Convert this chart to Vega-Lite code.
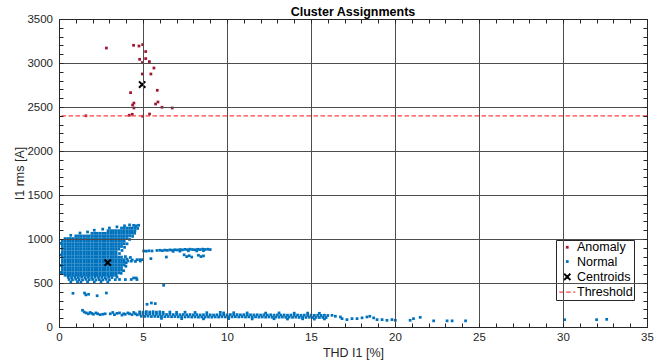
{"$schema":"https://vega.github.io/schema/vega-lite/v6.json","width":588,"height":308,"autosize":{"type":"none"},"padding":{"left":59,"top":19,"right":25,"bottom":35},"background":"white",
"config":{"view":{"stroke":null},"font":"Liberation Sans"},
"title":{"text":"Cluster Assignments","fontSize":12.5,"fontWeight":"bold","color":"#000000","offset":-5,"anchor":"middle","font":"Liberation Sans"},
"datasets":{
"normal":[
{"x":4.44,"y":1155},{"x":4.6,"y":1150},{"x":4.74,"y":1156},
{"x":0.7,"y":1042},{"x":1.25,"y":1068},{"x":1.7,"y":1080},{"x":2.1,"y":1100},{"x":2.6,"y":1112},{"x":3.0,"y":1125},{"x":3.45,"y":1138},{"x":3.9,"y":1150},{"x":4.2,"y":1160},
{"x":4.68,"y":1120},{"x":4.5,"y":1065},{"x":4.38,"y":1030},{"x":4.2,"y":995},{"x":4.05,"y":945},{"x":3.9,"y":905},{"x":3.75,"y":870},{"x":3.6,"y":835},{"x":3.95,"y":800},{"x":4.05,"y":772},{"x":4.0,"y":730},{"x":3.98,"y":690},{"x":3.85,"y":640},{"x":3.7,"y":610},{"x":4.1,"y":750},{"x":4.3,"y":748},{"x":4.55,"y":745},{"x":4.84,"y":750},
{"x":0.1,"y":950},{"x":0.08,"y":820},{"x":0.1,"y":700},{"x":0.12,"y":620},
{"x":3.72,"y":1125},{"x":3.88,"y":1125},{"x":4.04,"y":1125},{"x":4.2,"y":1125},{"x":4.36,"y":1125},{"x":4.52,"y":1125},
{"x":2.92,"y":1095},{"x":3.08,"y":1095},{"x":3.24,"y":1095},{"x":3.4,"y":1095},{"x":3.56,"y":1095},{"x":3.72,"y":1095},{"x":3.88,"y":1095},{"x":4.04,"y":1095},{"x":4.2,"y":1095},{"x":4.36,"y":1095},{"x":4.52,"y":1095},
{"x":1.96,"y":1065},{"x":2.12,"y":1065},{"x":2.28,"y":1065},{"x":2.44,"y":1065},{"x":2.6,"y":1065},{"x":2.76,"y":1065},{"x":2.92,"y":1065},{"x":3.08,"y":1065},{"x":3.24,"y":1065},{"x":3.4,"y":1065},{"x":3.56,"y":1065},{"x":3.72,"y":1065},{"x":3.88,"y":1065},{"x":4.04,"y":1065},{"x":4.2,"y":1065},{"x":4.36,"y":1065},
{"x":1,"y":1035},{"x":1.16,"y":1035},{"x":1.32,"y":1035},{"x":1.48,"y":1035},{"x":1.64,"y":1035},{"x":1.8,"y":1035},{"x":1.96,"y":1035},{"x":2.12,"y":1035},{"x":2.28,"y":1035},{"x":2.44,"y":1035},{"x":2.6,"y":1035},{"x":2.76,"y":1035},{"x":2.92,"y":1035},{"x":3.08,"y":1035},{"x":3.24,"y":1035},{"x":3.4,"y":1035},{"x":3.56,"y":1035},{"x":3.72,"y":1035},{"x":3.88,"y":1035},{"x":4.04,"y":1035},{"x":4.2,"y":1035},
{"x":0.36,"y":1005},{"x":0.52,"y":1005},{"x":0.68,"y":1005},{"x":0.84,"y":1005},{"x":1,"y":1005},{"x":1.16,"y":1005},{"x":1.32,"y":1005},{"x":1.48,"y":1005},{"x":1.64,"y":1005},{"x":1.8,"y":1005},{"x":1.96,"y":1005},{"x":2.12,"y":1005},{"x":2.28,"y":1005},{"x":2.44,"y":1005},{"x":2.6,"y":1005},{"x":2.76,"y":1005},{"x":2.92,"y":1005},{"x":3.08,"y":1005},{"x":3.24,"y":1005},{"x":3.4,"y":1005},{"x":3.56,"y":1005},{"x":3.72,"y":1005},{"x":3.88,"y":1005},{"x":4.04,"y":1005},
{"x":0.2,"y":975},{"x":0.36,"y":975},{"x":0.52,"y":975},{"x":0.68,"y":975},{"x":0.84,"y":975},{"x":1,"y":975},{"x":1.16,"y":975},{"x":1.32,"y":975},{"x":1.48,"y":975},{"x":1.64,"y":975},{"x":1.8,"y":975},{"x":1.96,"y":975},{"x":2.12,"y":975},{"x":2.28,"y":975},{"x":2.44,"y":975},{"x":2.6,"y":975},{"x":2.76,"y":975},{"x":2.92,"y":975},{"x":3.08,"y":975},{"x":3.24,"y":975},{"x":3.4,"y":975},{"x":3.56,"y":975},{"x":3.72,"y":975},{"x":3.88,"y":975},
{"x":0.2,"y":945},{"x":0.36,"y":945},{"x":0.52,"y":945},{"x":0.68,"y":945},{"x":0.84,"y":945},{"x":1,"y":945},{"x":1.16,"y":945},{"x":1.32,"y":945},{"x":1.48,"y":945},{"x":1.64,"y":945},{"x":1.8,"y":945},{"x":1.96,"y":945},{"x":2.12,"y":945},{"x":2.28,"y":945},{"x":2.44,"y":945},{"x":2.6,"y":945},{"x":2.76,"y":945},{"x":2.92,"y":945},{"x":3.08,"y":945},{"x":3.24,"y":945},{"x":3.4,"y":945},{"x":3.56,"y":945},{"x":3.72,"y":945},{"x":3.88,"y":945},
{"x":0.2,"y":915},{"x":0.36,"y":915},{"x":0.52,"y":915},{"x":0.68,"y":915},{"x":0.84,"y":915},{"x":1,"y":915},{"x":1.16,"y":915},{"x":1.32,"y":915},{"x":1.48,"y":915},{"x":1.64,"y":915},{"x":1.8,"y":915},{"x":1.96,"y":915},{"x":2.12,"y":915},{"x":2.28,"y":915},{"x":2.44,"y":915},{"x":2.6,"y":915},{"x":2.76,"y":915},{"x":2.92,"y":915},{"x":3.08,"y":915},{"x":3.24,"y":915},{"x":3.4,"y":915},{"x":3.56,"y":915},{"x":3.72,"y":915},
{"x":0.2,"y":885},{"x":0.36,"y":885},{"x":0.52,"y":885},{"x":0.68,"y":885},{"x":0.84,"y":885},{"x":1,"y":885},{"x":1.16,"y":885},{"x":1.32,"y":885},{"x":1.48,"y":885},{"x":1.64,"y":885},{"x":1.8,"y":885},{"x":1.96,"y":885},{"x":2.12,"y":885},{"x":2.28,"y":885},{"x":2.44,"y":885},{"x":2.6,"y":885},{"x":2.76,"y":885},{"x":2.92,"y":885},{"x":3.08,"y":885},{"x":3.24,"y":885},{"x":3.4,"y":885},{"x":3.56,"y":885},
{"x":0.2,"y":855},{"x":0.36,"y":855},{"x":0.52,"y":855},{"x":0.68,"y":855},{"x":0.84,"y":855},{"x":1,"y":855},{"x":1.16,"y":855},{"x":1.32,"y":855},{"x":1.48,"y":855},{"x":1.64,"y":855},{"x":1.8,"y":855},{"x":1.96,"y":855},{"x":2.12,"y":855},{"x":2.28,"y":855},{"x":2.44,"y":855},{"x":2.6,"y":855},{"x":2.76,"y":855},{"x":2.92,"y":855},{"x":3.08,"y":855},{"x":3.24,"y":855},{"x":3.4,"y":855},
{"x":0.2,"y":825},{"x":0.36,"y":825},{"x":0.52,"y":825},{"x":0.68,"y":825},{"x":0.84,"y":825},{"x":1,"y":825},{"x":1.16,"y":825},{"x":1.32,"y":825},{"x":1.48,"y":825},{"x":1.64,"y":825},{"x":1.8,"y":825},{"x":1.96,"y":825},{"x":2.12,"y":825},{"x":2.28,"y":825},{"x":2.44,"y":825},{"x":2.6,"y":825},{"x":2.76,"y":825},{"x":2.92,"y":825},{"x":3.08,"y":825},{"x":3.24,"y":825},{"x":3.4,"y":825},
{"x":0.2,"y":795},{"x":0.36,"y":795},{"x":0.52,"y":795},{"x":0.68,"y":795},{"x":0.84,"y":795},{"x":1,"y":795},{"x":1.16,"y":795},{"x":1.32,"y":795},{"x":1.48,"y":795},{"x":1.64,"y":795},{"x":1.8,"y":795},{"x":1.96,"y":795},{"x":2.12,"y":795},{"x":2.28,"y":795},{"x":2.44,"y":795},{"x":2.6,"y":795},{"x":2.76,"y":795},{"x":2.92,"y":795},{"x":3.08,"y":795},{"x":3.24,"y":795},{"x":3.4,"y":795},{"x":3.56,"y":795},{"x":3.72,"y":795},
{"x":0.2,"y":765},{"x":0.36,"y":765},{"x":0.52,"y":765},{"x":0.68,"y":765},{"x":0.84,"y":765},{"x":1,"y":765},{"x":1.16,"y":765},{"x":1.32,"y":765},{"x":1.48,"y":765},{"x":1.64,"y":765},{"x":1.8,"y":765},{"x":1.96,"y":765},{"x":2.12,"y":765},{"x":2.28,"y":765},{"x":2.44,"y":765},{"x":2.6,"y":765},{"x":2.76,"y":765},{"x":2.92,"y":765},{"x":3.08,"y":765},{"x":3.24,"y":765},{"x":3.4,"y":765},{"x":3.56,"y":765},{"x":3.72,"y":765},{"x":3.88,"y":765},
{"x":0.2,"y":735},{"x":0.36,"y":735},{"x":0.52,"y":735},{"x":0.68,"y":735},{"x":0.84,"y":735},{"x":1,"y":735},{"x":1.16,"y":735},{"x":1.32,"y":735},{"x":1.48,"y":735},{"x":1.64,"y":735},{"x":1.8,"y":735},{"x":1.96,"y":735},{"x":2.12,"y":735},{"x":2.28,"y":735},{"x":2.44,"y":735},{"x":2.6,"y":735},{"x":2.76,"y":735},{"x":2.92,"y":735},{"x":3.08,"y":735},{"x":3.24,"y":735},{"x":3.4,"y":735},{"x":3.56,"y":735},{"x":3.72,"y":735},{"x":3.88,"y":735},
{"x":0.2,"y":705},{"x":0.36,"y":705},{"x":0.52,"y":705},{"x":0.68,"y":705},{"x":0.84,"y":705},{"x":1,"y":705},{"x":1.16,"y":705},{"x":1.32,"y":705},{"x":1.48,"y":705},{"x":1.64,"y":705},{"x":1.8,"y":705},{"x":1.96,"y":705},{"x":2.12,"y":705},{"x":2.28,"y":705},{"x":2.44,"y":705},{"x":2.6,"y":705},{"x":2.76,"y":705},{"x":2.92,"y":705},{"x":3.08,"y":705},{"x":3.24,"y":705},{"x":3.4,"y":705},{"x":3.56,"y":705},{"x":3.72,"y":705},{"x":3.88,"y":705},
{"x":0.2,"y":675},{"x":0.36,"y":675},{"x":0.52,"y":675},{"x":0.68,"y":675},{"x":0.84,"y":675},{"x":1,"y":675},{"x":1.16,"y":675},{"x":1.32,"y":675},{"x":1.48,"y":675},{"x":1.64,"y":675},{"x":1.8,"y":675},{"x":1.96,"y":675},{"x":2.12,"y":675},{"x":2.28,"y":675},{"x":2.44,"y":675},{"x":2.6,"y":675},{"x":2.76,"y":675},{"x":2.92,"y":675},{"x":3.08,"y":675},{"x":3.24,"y":675},{"x":3.4,"y":675},{"x":3.56,"y":675},{"x":3.72,"y":675},
{"x":0.2,"y":645},{"x":0.36,"y":645},{"x":0.52,"y":645},{"x":0.68,"y":645},{"x":0.84,"y":645},{"x":1,"y":645},{"x":1.16,"y":645},{"x":1.32,"y":645},{"x":1.48,"y":645},{"x":1.64,"y":645},{"x":1.8,"y":645},{"x":1.96,"y":645},{"x":2.12,"y":645},{"x":2.28,"y":645},{"x":2.44,"y":645},{"x":2.6,"y":645},{"x":2.76,"y":645},{"x":2.92,"y":645},{"x":3.08,"y":645},{"x":3.24,"y":645},{"x":3.4,"y":645},{"x":3.56,"y":645},{"x":3.72,"y":645},
{"x":0.2,"y":615},{"x":0.36,"y":615},{"x":0.52,"y":615},{"x":0.68,"y":615},{"x":0.84,"y":615},{"x":1,"y":615},{"x":1.16,"y":615},{"x":1.32,"y":615},{"x":1.48,"y":615},{"x":1.64,"y":615},{"x":1.8,"y":615},{"x":1.96,"y":615},{"x":2.12,"y":615},{"x":2.28,"y":615},{"x":2.44,"y":615},{"x":2.6,"y":615},{"x":2.76,"y":615},{"x":2.92,"y":615},{"x":3.08,"y":615},{"x":3.24,"y":615},{"x":3.4,"y":615},{"x":3.56,"y":615},
{"x":0.36,"y":588},{"x":0.52,"y":588},{"x":0.68,"y":588},{"x":0.84,"y":588},{"x":1,"y":588},{"x":1.16,"y":588},{"x":1.32,"y":588},{"x":1.48,"y":588},{"x":1.64,"y":588},{"x":1.8,"y":588},{"x":1.96,"y":588},{"x":2.12,"y":588},{"x":2.28,"y":588},{"x":2.44,"y":588},{"x":2.6,"y":588},{"x":2.76,"y":588},{"x":2.92,"y":588},{"x":3.08,"y":588},{"x":3.24,"y":588},{"x":3.4,"y":588},
{"x":0.55,"y":565},{"x":0.75,"y":562},{"x":0.95,"y":566},{"x":1.15,"y":563},{"x":1.35,"y":567},{"x":1.55,"y":562},{"x":1.75,"y":565},{"x":1.95,"y":561},{"x":2.15,"y":566},{"x":2.35,"y":563},{"x":2.55,"y":565},{"x":2.75,"y":560},{"x":2.95,"y":566},{"x":3.15,"y":562},{"x":3.45,"y":568},
{"x":0.6,"y":540},{"x":0.8,"y":536},{"x":1.0,"y":542},{"x":1.2,"y":538},{"x":1.4,"y":535},{"x":1.6,"y":541},{"x":1.8,"y":537},{"x":2.0,"y":540},{"x":2.2,"y":534},{"x":2.4,"y":539},{"x":2.6,"y":536},{"x":2.8,"y":541},{"x":3.0,"y":535},{"x":3.35,"y":538},{"x":3.6,"y":540},
{"x":0.7,"y":512},{"x":1.1,"y":515},{"x":1.3,"y":508},{"x":1.7,"y":514},{"x":2.1,"y":510},{"x":2.5,"y":516},{"x":2.9,"y":511},
{"x":3.95,"y":539},{"x":4.3,"y":540},{"x":4.64,"y":539},{"x":4.44,"y":557},{"x":4.6,"y":557},
{"x":0.83,"y":383},{"x":1.52,"y":386},{"x":1.6,"y":365},{"x":1.76,"y":372},{"x":2.27,"y":355},{"x":2.82,"y":386},{"x":6.23,"y":474},
{"x":5.04,"y":864},{"x":5.2,"y":862},{"x":5.36,"y":866},{"x":5.54,"y":864},{"x":5.83,"y":870},{"x":6.0,"y":872},{"x":6.15,"y":868},{"x":6.3,"y":874},{"x":6.45,"y":871},{"x":6.6,"y":876},{"x":6.75,"y":873},{"x":6.9,"y":878},{"x":7.05,"y":875},{"x":7.2,"y":880},{"x":7.35,"y":877},{"x":7.5,"y":882},{"x":7.65,"y":879},{"x":7.8,"y":884},{"x":7.95,"y":880},{"x":8.1,"y":878},{"x":8.25,"y":883},{"x":8.4,"y":880},{"x":8.55,"y":885},{"x":8.7,"y":881},{"x":8.85,"y":884},{"x":9.0,"y":880},
{"x":6.8,"y":860},{"x":7.2,"y":862},{"x":7.7,"y":866},{"x":8.2,"y":865},{"x":8.6,"y":868},
{"x":7.45,"y":820},{"x":7.6,"y":800},{"x":7.75,"y":810},{"x":7.9,"y":795},{"x":8.3,"y":815},{"x":8.45,"y":800},{"x":8.6,"y":808},
{"x":5.47,"y":777},{"x":6.39,"y":795},
{"x":4.25,"y":790},{"x":4.36,"y":762},{"x":4.64,"y":765},{"x":4.8,"y":765},{"x":4.96,"y":765},
{"x":1.4,"y":190},{"x":1.5,"y":170},{"x":1.62,"y":160},{"x":1.75,"y":150},{"x":1.85,"y":165},{"x":1.95,"y":155},{"x":2.05,"y":145},{"x":2.2,"y":160},{"x":2.3,"y":150},{"x":2.45,"y":140},{"x":2.6,"y":145},{"x":2.75,"y":150},{"x":3.05,"y":150},{"x":3.2,"y":165},{"x":3.3,"y":140},{"x":3.45,"y":155},{"x":3.6,"y":160},{"x":3.75,"y":135},{"x":3.85,"y":150},{"x":3.95,"y":145},{"x":4.1,"y":160},{"x":4.2,"y":150},{"x":4.35,"y":140},{"x":4.45,"y":165},{"x":4.55,"y":150},{"x":4.65,"y":138},
{"x":5.24,"y":258},{"x":5.5,"y":273},{"x":5.73,"y":266},
{"x":4.8,"y":145},{"x":5.0,"y":148},{"x":5.2,"y":146},{"x":5.4,"y":150},{"x":5.6,"y":147},{"x":5.8,"y":145},{"x":6.0,"y":143},{"x":6.2,"y":146},{"x":6.4,"y":142},{"x":6.6,"y":144},{"x":6.8,"y":141},{"x":7.0,"y":143},{"x":7.2,"y":140},{"x":7.4,"y":142},{"x":7.6,"y":139},{"x":7.8,"y":141},{"x":8.0,"y":138},{"x":8.2,"y":140},{"x":8.4,"y":137},{"x":8.6,"y":139},{"x":8.8,"y":136},{"x":9.0,"y":138},{"x":9.2,"y":136},{"x":9.4,"y":139},{"x":9.6,"y":137},{"x":9.8,"y":140},{"x":10.0,"y":138},{"x":10.2,"y":141},{"x":10.4,"y":139},{"x":10.6,"y":141},{"x":10.8,"y":138},{"x":11.0,"y":140},{"x":11.2,"y":137},{"x":11.4,"y":139},{"x":11.6,"y":137},{"x":11.8,"y":139},{"x":12.0,"y":136},{"x":12.2,"y":138},{"x":12.4,"y":136},{"x":12.6,"y":138},{"x":12.8,"y":135},{"x":13.0,"y":137},{"x":13.2,"y":135},{"x":13.4,"y":137},{"x":13.6,"y":134},{"x":13.8,"y":136},{"x":14.0,"y":134},{"x":14.2,"y":136},{"x":14.4,"y":133},{"x":14.6,"y":135},{"x":14.8,"y":133},{"x":15.0,"y":135},{"x":15.2,"y":132},{"x":15.4,"y":134},{"x":15.6,"y":132},{"x":15.8,"y":134},{"x":16.0,"y":131},
{"x":4.9,"y":122},{"x":5.1,"y":120},{"x":5.3,"y":123},{"x":5.5,"y":119},{"x":5.7,"y":121},{"x":5.9,"y":118},{"x":6.1,"y":120},{"x":6.3,"y":117},{"x":6.5,"y":119},{"x":6.7,"y":116},{"x":6.9,"y":118},{"x":7.1,"y":115},{"x":7.3,"y":117},{"x":7.5,"y":114},{"x":7.7,"y":116},{"x":7.9,"y":113},{"x":8.1,"y":115},{"x":8.3,"y":112},{"x":8.5,"y":114},{"x":8.7,"y":112},{"x":8.9,"y":114},{"x":9.1,"y":112},{"x":9.3,"y":115},{"x":9.5,"y":113},{"x":9.7,"y":116},{"x":9.9,"y":114},{"x":10.1,"y":117},{"x":10.3,"y":115},{"x":10.5,"y":117},{"x":10.7,"y":114},{"x":10.9,"y":116},{"x":11.1,"y":113},{"x":11.3,"y":115},{"x":11.5,"y":113},{"x":11.7,"y":115},{"x":11.9,"y":112},{"x":12.1,"y":114},{"x":12.3,"y":112},{"x":12.5,"y":114},{"x":12.7,"y":111},{"x":12.9,"y":113},{"x":13.1,"y":111},{"x":13.3,"y":113},{"x":13.5,"y":110},{"x":13.7,"y":112},{"x":13.9,"y":110},{"x":14.1,"y":112},{"x":14.3,"y":109},{"x":14.5,"y":111},{"x":14.7,"y":109},{"x":14.9,"y":111},{"x":15.1,"y":108},{"x":15.3,"y":110},{"x":15.5,"y":108},{"x":15.7,"y":110},{"x":15.9,"y":108},
{"x":4.8,"y":172},{"x":5.0,"y":168},{"x":5.2,"y":175},{"x":5.4,"y":170},{"x":5.6,"y":174},{"x":5.8,"y":169},{"x":6.0,"y":172},{"x":6.2,"y":167},{"x":6.6,"y":170},{"x":7.0,"y":166},{"x":7.5,"y":168},{"x":8.1,"y":165},{"x":8.8,"y":163},{"x":9.6,"y":166},{"x":9.8,"y":160},{"x":10.4,"y":162},{"x":11.2,"y":160},{"x":12.3,"y":158},{"x":13.1,"y":160},{"x":14.0,"y":157},{"x":14.8,"y":158},{"x":15.5,"y":156},
{"x":6.1,"y":98},{"x":7.3,"y":95},{"x":8.6,"y":93},{"x":10.1,"y":95},{"x":11.5,"y":92},{"x":12.8,"y":94},{"x":13.6,"y":91},{"x":14.5,"y":93},{"x":15.2,"y":90},{"x":15.8,"y":92},
{"x":16.25,"y":133},{"x":16.45,"y":122},{"x":16.75,"y":114},{"x":16.85,"y":95},{"x":17.14,"y":84},{"x":17.44,"y":95},{"x":17.74,"y":95},{"x":18.04,"y":104},{"x":18.33,"y":114},{"x":18.5,"y":122},{"x":18.73,"y":104},{"x":18.93,"y":84},{"x":19.23,"y":84},{"x":19.52,"y":76},{"x":19.82,"y":84},{"x":20.02,"y":76},
{"x":20.9,"y":76},{"x":21.1,"y":95},{"x":21.5,"y":110},{"x":22.3,"y":70},{"x":23.1,"y":70},{"x":23.4,"y":70},{"x":24.2,"y":70},{"x":30.1,"y":83},{"x":32.0,"y":83},{"x":32.6,"y":87}
],
"anomaly":[{"x":2.82,"y":3170},{"x":4.44,"y":3201},{"x":4.76,"y":3193},{"x":4.98,"y":3209},{"x":5.16,"y":3130},{"x":4.8,"y":3042},{"x":5.16,"y":3050},{"x":4.96,"y":3004},{"x":5.38,"y":3016},{"x":5.65,"y":2943},{"x":4.96,"y":2875},{"x":5.47,"y":2875},{"x":5.85,"y":2690},{"x":4.26,"y":2663},{"x":4.46,"y":2545},{"x":4.38,"y":2523},{"x":5.89,"y":2557},{"x":5.75,"y":2534},{"x":6.13,"y":2497},{"x":6.74,"y":2489},{"x":4.46,"y":2489},{"x":4.36,"y":2417},{"x":4.18,"y":2406},{"x":5.39,"y":2420},{"x":1.6,"y":2400},{"x":4.98,"y":2395}],
"centroids":[{"x":4.95,"y":2755},{"x":2.9,"y":732}],
"threshold":[{"y":2400}]
},
"layer":[
{"data":{"name":"normal"},"mark":{"type":"point","filled":true,"opacity":1},
"encoding":{
"x":{"field":"x","type":"quantitative","scale":{"domain":[0,35],"nice":false,"zero":false},
"axis":{"orient":"bottom","values":[0,1,2,3,4,5,6,7,8,9,10,11,12,13,14,15,16,17,18,19,20,21,22,23,24,25,26,27,28,29,30,31,32,33,34,35],"labelExpr":"datum.value % 5 === 0 ? datum.label : ''","format":"d","labelOverlap":false,"labelBound":false,"labelFlush":false,"title":"THD I1 [%]","tickSize":-4,"tickColor":"#262626","tickWidth":1,"labelPadding":8.7,"labelFontSize":11.5,"labelColor":"#262626","labelFont":"Liberation Sans","titleFont":"Liberation Sans","titleFontSize":12.5,"titleFontWeight":"normal","titleColor":"#262626","titlePadding":3,"domainColor":"#262626","domainWidth":1,"grid":true,"gridColor":"#4d4d4d","gridWidth":1,"gridOpacity":{"condition":{"test":"datum.value % 5 === 0","value":1},"value":0},"zindex":1}},
"y":{"field":"y","type":"quantitative","scale":{"domain":[0,3500],"nice":false,"zero":false},
"axis":{"orient":"left","values":[0,100,200,300,400,500,600,700,800,900,1000,1100,1200,1300,1400,1500,1600,1700,1800,1900,2000,2100,2200,2300,2400,2500,2600,2700,2800,2900,3000,3100,3200,3300,3400,3500],"labelExpr":"datum.value % 500 === 0 ? datum.label : ''","format":"d","labelOverlap":false,"labelBound":false,"labelFlush":false,"title":"I1 rms [A]","tickSize":-4,"tickColor":"#262626","tickWidth":1,"labelPadding":10.5,"labelFontSize":11.5,"labelColor":"#262626","labelFont":"Liberation Sans","titleFont":"Liberation Sans","titleFontSize":12.5,"titleFontWeight":"normal","titleColor":"#262626","titlePadding":0,"domainColor":"#262626","domainWidth":1,"grid":true,"gridColor":"#4d4d4d","gridWidth":1,"gridOpacity":{"condition":{"test":"datum.value % 500 === 0","value":1},"value":0},"zindex":1}},
"color":{"datum":"Normal","type":"nominal","scale":{"domain":["Anomaly","Normal","Centroids","Threshold"],"range":["#A2142F","#0072BD","#000000","#FF4040"]},
"legend":{"orient":"none","legendX":497,"legendY":221,"title":null,"padding":1,"strokeColor":"#262626","fillColor":"white","labelFont":"Liberation Sans","labelFontSize":12.5,"labelColor":"#000000","labelOffset":3.5,"symbolOffset":4,"rowPadding":1.3,"symbolOpacity":1}},
"shape":{"datum":"Normal","type":"nominal","scale":{"domain":["Anomaly","Normal","Centroids","Threshold"],"range":["square","square","M-1,-1L1,1M1,-1L-1,1","M-2.67,0L2.67,0"]}},
"size":{"datum":"Normal","type":"nominal","scale":{"type":"ordinal","domain":["Anomaly","Normal","Centroids","Threshold"],"range":[7.5,7.5,40,36]}},
"strokeWidth":{"datum":"Normal","type":"nominal","scale":{"type":"ordinal","domain":["Anomaly","Normal","Centroids","Threshold"],"range":[0,0,2,1.3]}}
}},
{"data":{"name":"anomaly"},"mark":{"type":"point","filled":true,"opacity":1},
"encoding":{
"x":{"field":"x","type":"quantitative","axis":{"orient":"top","values":[0,1,2,3,4,5,6,7,8,9,10,11,12,13,14,15,16,17,18,19,20,21,22,23,24,25,26,27,28,29,30,31,32,33,34,35],"labels":false,"title":null,"tickSize":-4,"tickColor":"#262626","domainColor":"#262626","grid":false,"zindex":1}},
"y":{"field":"y","type":"quantitative","axis":{"orient":"right","values":[0,100,200,300,400,500,600,700,800,900,1000,1100,1200,1300,1400,1500,1600,1700,1800,1900,2000,2100,2200,2300,2400,2500,2600,2700,2800,2900,3000,3100,3200,3300,3400,3500],"labels":false,"title":null,"tickSize":-4,"tickColor":"#262626","domainColor":"#262626","grid":false,"zindex":1}},
"color":{"datum":"Anomaly","type":"nominal","scale":{"domain":["Anomaly","Normal","Centroids","Threshold"],"range":["#A2142F","#0072BD","#000000","#FF4040"]}},
"shape":{"datum":"Anomaly","type":"nominal","scale":{"domain":["Anomaly","Normal","Centroids","Threshold"],"range":["square","square","M-1,-1L1,1M1,-1L-1,1","M-2.67,0L2.67,0"]}},
"size":{"datum":"Anomaly","type":"nominal","scale":{"type":"ordinal","domain":["Anomaly","Normal","Centroids","Threshold"],"range":[7.5,7.5,40,36]}},
"strokeWidth":{"datum":"Anomaly","type":"nominal","scale":{"type":"ordinal","domain":["Anomaly","Normal","Centroids","Threshold"],"range":[0,0,2,1.3]}}
}},
{"data":{"name":"centroids"},"mark":{"type":"point","filled":false,"opacity":1},
"encoding":{
"x":{"field":"x","type":"quantitative","axis":null},
"y":{"field":"y","type":"quantitative","axis":null},
"color":{"datum":"Centroids","type":"nominal","scale":{"domain":["Anomaly","Normal","Centroids","Threshold"],"range":["#A2142F","#0072BD","#000000","#FF4040"]}},
"shape":{"datum":"Centroids","type":"nominal","scale":{"domain":["Anomaly","Normal","Centroids","Threshold"],"range":["square","square","M-1,-1L1,1M1,-1L-1,1","M-2.67,0L2.67,0"]}},
"size":{"datum":"Centroids","type":"nominal","scale":{"type":"ordinal","domain":["Anomaly","Normal","Centroids","Threshold"],"range":[7.5,7.5,40,36]}},
"strokeWidth":{"datum":"Centroids","type":"nominal","scale":{"type":"ordinal","domain":["Anomaly","Normal","Centroids","Threshold"],"range":[0,0,2,1.3]}}
}},
{"data":{"name":"threshold"},"mark":{"type":"rule"},
"encoding":{
"y":{"field":"y","type":"quantitative","axis":null},
"color":{"datum":"Threshold","type":"nominal","scale":{"domain":["Anomaly","Normal","Centroids","Threshold"],"range":["#A2142F","#0072BD","#000000","#FF4040"]}},
"strokeWidth":{"datum":"Threshold","type":"nominal","scale":{"type":"ordinal","domain":["Anomaly","Normal","Centroids","Threshold"],"range":[0,0,2,1.3]}},
"strokeDash":{"datum":"Threshold","type":"nominal","scale":{"domain":["Anomaly","Normal","Centroids","Threshold"],"range":[[1,0],[1,0],[1,0],[4.5,2.5]]}}
}}
],
"resolve":{"axis":{"x":"independent","y":"independent"}}
}
